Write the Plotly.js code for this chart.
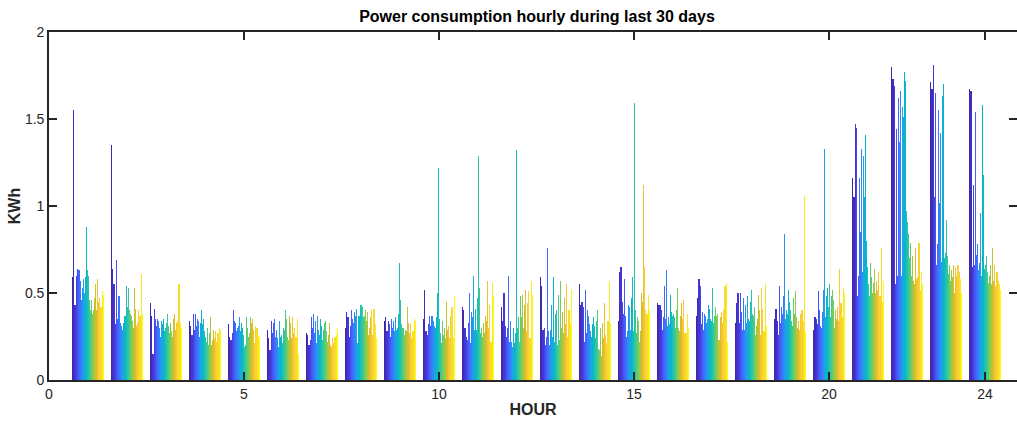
<!DOCTYPE html>
<html>
<head>
<meta charset="utf-8">
<script src="https://cdn.plot.ly/plotly-3.0.1.min.js"></script>
<style>html,body{margin:0;padding:0;background:#fff;}#chart{width:1017px;height:424px;}
#chart .bars path{shape-rendering:crispEdges;}</style>
</head>
<body>
<div id="chart"></div>
<script>
// Hours on the x axis
const hours = [1,2,3,4,5,6,7,8,9,10,11,12,13,14,15,16,17,18,19,20,21,22,23,24];
const xTickVals = [0,5,10,15,20,24];
const xTickText = ['0','5','10','15','20','24'];
const yTickVals = [0,0.5,1,1.5,2];
const yTickText = ['0','0.5','1','1.5','2'];

// kWh for each of the 30 days, per hour (day 1 .. day 30)
const hour01 = [0.59,1.55,0.43,0.60,0.64,0.63,0.63,0.57,0.46,0.53,0.58,0.50,0.59,0.88,0.63,0.60,0.46,0.40,0.46,0.38,0.40,0.47,0.55,0.40,0.58,0.45,0.47,0.42,0.51,0.49];
const hour02 = [1.35,0.64,0.55,0.32,0.69,0.35,0.48,0.48,0.33,0.31,0.29,0.33,0.37,0.37,0.54,0.42,0.53,0.40,0.38,0.37,0.34,0.30,0.53,0.41,0.31,0.33,0.40,0.37,0.61,0.38];
const hour03 = [0.44,0.37,0.15,0.41,0.35,0.31,0.35,0.34,0.30,0.25,0.34,0.32,0.35,0.28,0.30,0.33,0.38,0.31,0.27,0.33,0.28,0.25,0.35,0.38,0.29,0.33,0.34,0.55,0.33,0.30];
const hour04 = [0.34,0.31,0.26,0.38,0.29,0.38,0.31,0.35,0.34,0.25,0.33,0.40,0.32,0.35,0.28,0.25,0.22,0.30,0.20,0.27,0.36,0.20,0.23,0.29,0.24,0.28,0.22,0.27,0.30,0.29];
const hour05 = [0.32,0.25,0.23,0.27,0.40,0.34,0.33,0.28,0.30,0.31,0.36,0.28,0.33,0.30,0.26,0.19,0.20,0.36,0.30,0.25,0.27,0.36,0.33,0.35,0.29,0.21,0.31,0.30,0.25,0.26];
const hour06 = [0.29,0.24,0.17,0.34,0.27,0.33,0.35,0.25,0.29,0.24,0.19,0.34,0.25,0.26,0.21,0.30,0.29,0.40,0.35,0.25,0.23,0.37,0.33,0.24,0.36,0.27,0.30,0.25,0.35,0.15];
const hour07 = [0.27,0.26,0.20,0.23,0.36,0.30,0.38,0.27,0.34,0.21,0.37,0.29,0.26,0.35,0.31,0.23,0.29,0.33,0.34,0.28,0.22,0.26,0.33,0.20,0.19,0.24,0.21,0.25,0.26,0.30];
const hour08 = [0.30,0.39,0.36,0.25,0.31,0.40,0.35,0.33,0.39,0.37,0.41,0.21,0.37,0.37,0.43,0.43,0.42,0.36,0.37,0.40,0.34,0.39,0.26,0.30,0.36,0.40,0.26,0.41,0.32,0.24];
const hour09 = [0.34,0.36,0.28,0.34,0.32,0.25,0.35,0.30,0.34,0.28,0.36,0.29,0.30,0.38,0.67,0.46,0.32,0.30,0.30,0.26,0.29,0.28,0.42,0.33,0.27,0.32,0.24,0.28,0.35,0.34];
const hour10 = [0.35,0.52,0.28,0.26,0.32,0.37,0.31,0.37,0.37,0.34,0.31,0.30,0.36,0.50,1.22,0.35,0.27,0.21,0.34,0.26,0.30,0.24,0.45,0.29,0.31,0.24,0.37,0.42,0.25,0.48];
const hour11 = [0.42,0.40,0.30,0.25,0.23,0.33,0.50,0.21,0.39,0.36,0.60,0.29,0.41,0.29,0.47,1.29,0.53,0.27,0.30,0.25,0.33,0.27,0.37,0.34,0.57,0.30,0.43,0.22,0.56,0.48];
const hour12 = [0.42,0.34,0.50,0.31,0.25,0.30,0.60,0.22,0.34,0.22,0.19,0.30,0.21,0.27,1.32,0.30,0.36,0.22,0.48,0.36,0.49,0.30,0.43,0.52,0.28,0.44,0.51,0.24,0.57,0.49];
const hour13 = [0.59,0.54,0.29,0.30,0.20,0.25,0.76,0.28,0.20,0.29,0.43,0.25,0.59,0.22,0.38,0.40,0.20,0.49,0.23,0.57,0.30,0.39,0.27,0.47,0.32,0.55,0.25,0.40,0.33,0.52];
const hour14 = [0.55,0.43,0.45,0.42,0.22,0.52,0.27,0.40,0.37,0.32,0.28,0.25,0.32,0.36,0.31,0.24,0.34,0.40,0.18,0.17,0.30,0.14,0.33,0.24,0.44,0.26,0.21,0.34,0.57,0.32];
const hour15 = [0.34,0.62,0.65,0.45,0.38,0.58,0.37,0.25,0.28,0.43,0.42,0.29,0.47,0.59,0.28,1.59,0.40,0.27,0.36,0.34,0.22,0.28,0.50,0.45,1.12,0.65,0.40,0.38,0.49,0.40];
const hour16 = [0.44,0.43,0.43,0.40,0.29,0.36,0.54,0.35,0.63,0.31,0.36,0.32,0.49,0.39,0.37,0.38,0.36,0.30,0.40,0.53,0.30,0.28,0.37,0.44,0.35,0.46,0.27,0.27,0.38,0.30];
const hour17 = [0.37,0.47,0.58,0.54,0.32,0.39,0.29,0.38,0.37,0.33,0.35,0.43,0.41,0.35,0.34,0.53,0.33,0.37,0.42,0.37,0.38,0.23,0.23,0.36,0.39,0.33,0.40,0.54,0.56,0.22];
const hour18 = [0.33,0.44,0.50,0.33,0.50,0.39,0.29,0.47,0.29,0.43,0.33,0.48,0.35,0.34,0.45,0.52,0.38,0.37,0.42,0.26,0.31,0.35,0.49,0.40,0.26,0.53,0.41,0.28,0.55,0.31];
const hour19 = [0.35,0.41,0.34,0.26,0.54,0.33,0.42,0.38,0.48,0.84,0.35,0.40,0.38,0.52,0.45,0.40,0.34,0.31,0.47,0.38,0.51,0.36,0.30,0.34,0.29,0.38,0.40,0.34,1.06,0.28];
const hour20 = [0.29,0.36,0.35,0.32,0.51,0.40,0.31,0.30,0.39,0.52,1.33,0.36,0.48,0.53,0.42,0.55,0.36,0.48,0.52,0.46,0.30,0.40,0.35,0.42,0.34,0.64,0.44,0.36,0.53,0.50];
const hour21 = [1.16,1.05,1.47,1.45,0.48,0.60,1.16,0.85,1.33,0.62,1.29,1.05,1.41,0.80,0.65,0.55,0.48,0.67,0.59,0.50,0.56,0.64,0.50,0.57,0.52,0.62,0.48,0.76,0.45,0.57];
const hour22 = [1.80,1.73,1.69,0.55,1.44,0.60,1.62,1.37,1.66,0.60,1.57,1.51,1.77,1.72,0.97,0.91,0.84,0.70,0.79,0.60,0.71,0.57,0.55,0.76,0.58,0.59,0.79,0.52,0.62,0.55];
const hour23 = [1.71,1.67,1.81,1.05,1.65,0.66,0.78,1.55,1.02,1.42,0.68,1.63,1.70,0.70,0.73,0.92,0.71,0.61,0.66,0.57,0.63,0.59,0.66,0.50,0.65,0.60,0.66,0.62,0.58,0.50];
const hour24 = [1.67,1.66,0.65,1.12,0.66,1.54,0.72,0.78,0.63,0.67,0.96,0.60,1.58,1.18,0.64,0.66,0.71,0.62,0.56,0.60,0.66,0.55,0.76,0.57,0.66,0.54,0.62,0.57,0.55,0.52];

const byHour = [hour01,hour02,hour03,hour04,hour05,hour06,hour07,hour08,hour09,hour10,hour11,hour12,
                hour13,hour14,hour15,hour16,hour17,hour18,hour19,hour20,hour21,hour22,hour23,hour24];
const nDays = 30;

// parula colormap anchors (style)
const parulaBase = [
[0.2422,0.1504,0.6603],[0.2706,0.2147,0.8364],[0.2810,0.3228,0.9579],[0.2440,0.4358,0.9988],
[0.1786,0.5289,0.9682],[0.1248,0.6459,0.8883],[0.0036,0.7203,0.7917],[0.1408,0.7584,0.6842],
[0.2470,0.7918,0.5567],[0.4456,0.8024,0.3909],[0.6720,0.7793,0.2227],[0.8634,0.7406,0.1596],
[0.9970,0.7659,0.2199],[0.9676,0.8639,0.1643],[0.9769,0.9839,0.0805]];
function parula(t){
  const p = t*(parulaBase.length-1);
  const i = Math.min(Math.floor(p), parulaBase.length-2);
  const f = p - i;
  const a = parulaBase[i], b = parulaBase[i+1];
  const c = a.map((v,k)=>Math.round(255*(v+(b[k]-v)*f)));
  return 'rgb('+c.join(',')+')';
}

const traces = [];
for (let d = 0; d < nDays; d++) {
  traces.push({
    type: 'bar',
    x: hours,
    y: byHour.map(row => row[d]),
    name: 'Day ' + (d+1),
    marker: {color: parula(d/(nDays-1)), line: {width: 0}},
    hoverinfo: 'x+y'
  });
}

const axisCol = '#262626';
const layout = {
  width: 1017, height: 424,
  margin: {l: 49, r: 0, t: 32, b: 44},
  paper_bgcolor: '#fff', plot_bgcolor: '#fff',
  barmode: 'group', bargap: 0.2, bargroupgap: 0.0,
  showlegend: false,
  font: {family: 'Liberation Sans, Arial, sans-serif', color: axisCol, size: 13},
  title: {text: '<b>Power consumption hourly during last 30 days</b>', x: 0.528, xanchor: 'center', y: 0.962, yanchor: 'middle',
          font: {family: 'Liberation Sans, Arial, sans-serif', size: 16, color: '#000'}},
  xaxis: {
    range: [0, 24.82], tickvals: xTickVals, ticktext: xTickText,
    showgrid: false, zeroline: false, showline: true, linecolor: axisCol, linewidth: 1.8, mirror: 'ticks',
    ticks: 'inside', ticklen: 8, tickwidth: 1.8, tickcolor: axisCol,
    tickfont: {size: 14, color: axisCol},
    title: {text: '<b>HOUR</b>', font: {size: 16, color: axisCol}, standoff: 3}
  },
  yaxis: {
    range: [0, 2], tickvals: yTickVals, ticktext: yTickText,
    showgrid: false, zeroline: false, showline: true, linecolor: axisCol, linewidth: 1.8, mirror: 'ticks',
    ticks: 'inside', ticklen: 8, tickwidth: 1.8, tickcolor: axisCol,
    tickfont: {size: 14, color: axisCol},
    title: {text: '<b>KWh</b>', font: {size: 16, color: axisCol}, standoff: 0}
  }
};

Plotly.newPlot('chart', traces, layout, {displayModeBar: false, staticPlot: true});
</script>
</body>
</html>
